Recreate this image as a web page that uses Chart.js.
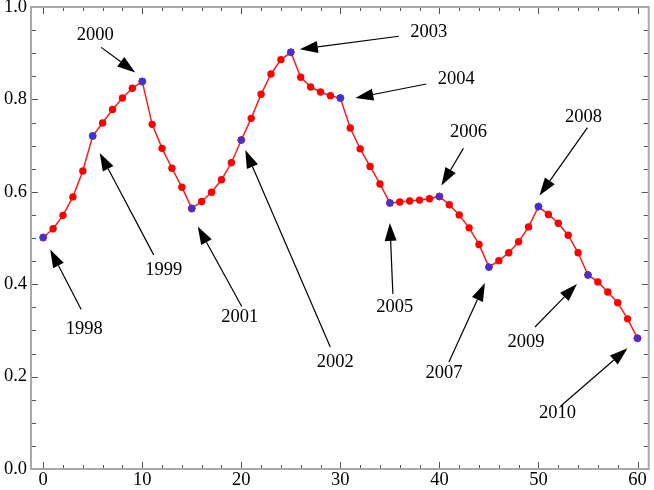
<!DOCTYPE html>
<html>
<head>
<meta charset="utf-8">
<script src="https://cdn.jsdelivr.net/npm/chart.js@4.4.1/dist/chart.umd.min.js"></script>
<style>
  html, body { margin: 0; padding: 0; background: #fff; }
</style>
</head>
<body>
<canvas id="chart" width="654" height="490"></canvas>
<script>
// data
const xValues = [0, 1, 2, 3, 4, 5, 6, 7, 8, 9, 10, 11, 12, 13, 14, 15, 16, 17, 18, 19, 20,
  21, 22, 23, 24, 25, 26, 27, 28, 29, 30, 31, 32, 33, 34, 35, 36, 37, 38, 39, 40,
  41, 42, 43, 44, 45, 46, 47, 48, 49, 50, 51, 52, 53, 54, 55, 56, 57, 58, 59, 60];
const yValues = [0.501, 0.520, 0.549, 0.589, 0.645, 0.721, 0.749, 0.778, 0.803, 0.824, 0.839,
  0.746, 0.694, 0.651, 0.610, 0.564, 0.579, 0.599, 0.626, 0.663, 0.712,
  0.759, 0.811, 0.855, 0.886, 0.902, 0.848, 0.827, 0.816, 0.808, 0.803,
  0.738, 0.693, 0.655, 0.617, 0.576, 0.578, 0.580, 0.582, 0.585, 0.590,
  0.572, 0.550, 0.522, 0.486, 0.437, 0.451, 0.468, 0.492, 0.524, 0.568,
  0.551, 0.532, 0.506, 0.468, 0.420, 0.405, 0.383, 0.360, 0.325, 0.283];
const yearLabels = ['1998', '1999', '2000', '2001', '2002', '2003', '2004',
  '2005', '2006', '2007', '2008', '2009', '2010'];
const yearX = [0, 5, 10, 15, 20, 25, 30, 35, 40, 45, 50, 55, 60];
const xTickLabels = ['0', '10', '20', '30', '40', '50', '60'];
const yTickLabels = ['0.0', '0.2', '0.4', '0.6', '0.8', '1.0'];

// arrow tip / tail / label offsets (pixels, from the marked point)
const arrowOffsets = [
  { tip: [7, 12], tail: [38, 72], text: [41, 92] },
  { tip: [7, 17], tail: [61, 119], text: [71, 134] },
  { tip: [-7, -9], tail: [-41, -34], text: [-47, -46] },
  { tip: [6, 18], tail: [50, 98], text: [48, 109] },
  { tip: [4, 10], tail: [89, 207], text: [94, 222] },
  { tip: [9, -3], tail: [108, -16], text: [138, -20] },
  { tip: [15, 0], tail: [86, -14], text: [116, -19] },
  { tip: [0, 20], tail: [3, 91], text: [5, 104] },
  { tip: [2, -11], tail: [24, -48], text: [29, -64] },
  { tip: [-4, 16], tail: [-40, 95], text: [-45, 106] },
  { tip: [1, -11], tail: [49, -79], text: [45, -89] },
  { tip: [-11, 9], tail: [-53, 52], text: [-62, 67] },
  { tip: [-10, 10], tail: [-77, 68], text: [-80, 75] }
];

const FONT = '18.5px "Liberation Serif", "DejaVu Serif", serif';

const linePoints = xValues.map((x, i) => ({ x: x, y: yValues[i] }));
const yearPoints = yearX.map((x) => ({ x: x, y: yValues[xValues.indexOf(x)] }));

function drawArrow(ctx, x0, y0, x1, y1) {
    const ang = Math.atan2(y1 - y0, x1 - x0);
    const len = 18, half = 6;
    const bx = x1 - len * Math.cos(ang);
    const by = y1 - len * Math.sin(ang);
    ctx.beginPath();
    ctx.moveTo(x0, y0);
    ctx.lineTo(bx, by);
    ctx.stroke();
    ctx.beginPath();
    ctx.moveTo(x1, y1);
    ctx.lineTo(bx - half * Math.sin(ang), by + half * Math.cos(ang));
    ctx.lineTo(bx + half * Math.sin(ang), by - half * Math.cos(ang));
    ctx.closePath();
    ctx.fill();
}

/**
 * Frame with inward ticks on all four sides, plus tick labels and the year arrows
 */
const framePlugin = {
    id: 'frame',
    beforeDatasetsDraw(chart) {
        const ctx = chart.ctx;
        const a = chart.chartArea;
        const xs = chart.scales.x;
        const ys = chart.scales.y;
        ctx.save();
        ctx.strokeStyle = '#555';
        ctx.lineWidth = 1;
        ctx.beginPath();
        for (let v = 0; v <= 60; v += 2) {
            const px = Math.round(xs.getPixelForValue(v)) + 0.5;
            const len = v % 10 === 0 ? 7 : 4;
            ctx.moveTo(px, a.bottom); ctx.lineTo(px, a.bottom - len);
            ctx.moveTo(px, a.top); ctx.lineTo(px, a.top + len);
        }
        for (let k = 0; k <= 20; k++) {
            const py = Math.round(ys.getPixelForValue(k * 0.05)) + 0.5;
            const len = k % 4 === 0 ? 7 : 5;
            ctx.moveTo(a.left, py); ctx.lineTo(a.left + len, py);
            ctx.moveTo(a.right, py); ctx.lineTo(a.right - len, py);
        }
        ctx.stroke();

        ctx.strokeStyle = '#a8a8a8';
        ctx.lineWidth = 2;
        ctx.strokeRect(a.left, a.top, a.right - a.left, a.bottom - a.top);

        ctx.fillStyle = '#000';
        ctx.font = FONT;
        ctx.textAlign = 'center';
        ctx.textBaseline = 'middle';
        xTickLabels.forEach((t) => {
            ctx.fillText(t, xs.getPixelForValue(Number(t)), a.bottom + 11);
        });
        ctx.textAlign = 'right';
        yTickLabels.forEach((t) => {
            ctx.fillText(t, a.left - 4, ys.getPixelForValue(Number(t)));
        });
        ctx.restore();
    },
    afterDatasetsDraw(chart) {
        const ctx = chart.ctx;
        const xs = chart.scales.x;
        const ys = chart.scales.y;
        ctx.save();
        ctx.strokeStyle = '#000';
        ctx.fillStyle = '#000';
        ctx.lineWidth = 1.2;
        ctx.font = FONT;
        ctx.textAlign = 'center';
        ctx.textBaseline = 'middle';
        yearPoints.forEach((p, i) => {
            const px = xs.getPixelForValue(p.x);
            const py = ys.getPixelForValue(p.y);
            const o = arrowOffsets[i];
            drawArrow(ctx, px + o.tail[0], py + o.tail[1], px + o.tip[0], py + o.tip[1]);
            ctx.fillText(yearLabels[i], px + o.text[0], py + o.text[1]);
        });
        ctx.restore();
    }
};

const ctx = document.getElementById('chart').getContext('2d');
const chart = new Chart(ctx, {
    type: 'scatter',
    data: {
        datasets: [
            {
                data: yearPoints,
                showLine: false,
                pointStyle: 'star',
                pointRadius: 4,
                pointBorderColor: '#3535d8',
                pointBorderWidth: 1.3
            },
            {
                data: yearPoints,
                showLine: false,
                pointRadius: 3.4,
                pointBackgroundColor: '#7a2f9a',
                pointBorderWidth: 0
            },
            {
                data: linePoints,
                showLine: true,
                borderColor: '#ff1a1a',
                borderWidth: 1.5,
                pointRadius: 3.7,
                pointBackgroundColor: '#ff0000',
                pointBorderWidth: 0
            }
        ]
    },
    options: {
        responsive: false,
        animation: false,
        layout: { padding: { left: 31, right: 1, top: 7, bottom: 21 } },
        plugins: { legend: { display: false }, tooltip: { enabled: false } },
        scales: {
            x: { type: 'linear', display: false, min: -1.23, max: 61.13 },
            y: { type: 'linear', display: false, min: 0, max: 1 }
        }
    },
    plugins: [framePlugin]
});
</script>
</body>
</html>
